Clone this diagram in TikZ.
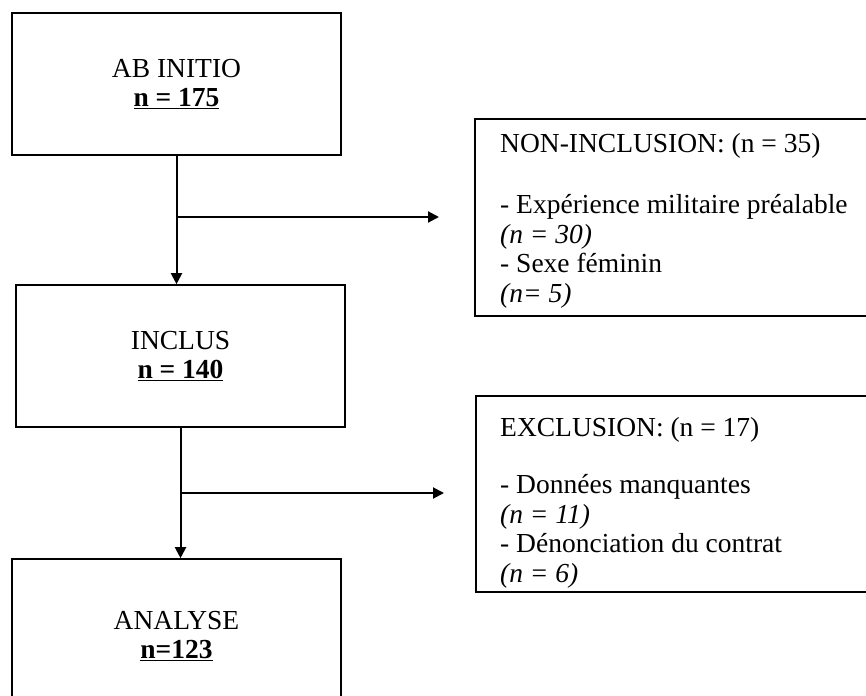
\documentclass[tikz,border=0pt]{standalone}
\usepackage{fontspec}
\setmainfont{Liberation Serif}
\usetikzlibrary{arrows.meta}

\begin{document}
\begin{tikzpicture}[
    x=1pt, y=-1pt,
    box/.style={rectangle, draw, line width=1.6pt, minimum width=329pt, minimum height=142pt, align=center, font=\fontsize{27.5}{29}\selectfont},
    sidebox/.style={rectangle, draw, line width=1.6pt, anchor=north west, minimum width=440pt, minimum height=197pt},
    liste/.style={anchor=base west, align=left, inner sep=0pt, font=\fontsize{27.5}{29.5}\selectfont},
    arrow/.style={-{Triangle[length=11pt,width=11pt]}, line width=2pt}
]
    \useasboundingbox (0,0) rectangle (866,695);
    \clip (0,0) rectangle (866,695);

    % Cadres principaux
    \node[box] (abinitio) at (176.5,84) {AB INITIO\\\textbf{\underline{n = 175}}};
    \node[box] (inclus) at (180.5,356) {INCLUS\\\textbf{\underline{n = 140}}};
    \node[box, minimum height=154pt] (analyse) at (176.5,636) {ANALYSE\\\textbf{\underline{n=123}}};

    % Cadres lateraux (base = derniere ligne)
    \node[sidebox] (noninc) at (474,118) {};
    \node[liste] (nonincListe) at (500,302) {NON-INCLUSION: (n = 35)\\[32pt]- Expérience militaire préalable\\\textit{(n = 30)}\\- Sexe féminin\\\textit{(n= 5)}};
    \node[sidebox, minimum height=196pt] (exclu) at (475,395) {};
    \node[liste] (excluListe) at (500,582) {EXCLUSION: (n = 17)\\[27.5pt]- Données manquantes\\\textit{(n = 11)}\\- Dénonciation du contrat\\\textit{(n = 6)}};

    % Fleches
    \coordinate (split1) at (176.5,217);
    \coordinate (versNoninc) at (439,217);
    \coordinate (split2) at (180.5,493);
    \coordinate (versExclu) at (444,493);
    \draw[arrow] (abinitio.south) -- (abinitio.south |- inclus.north);
    \draw[arrow] (split1) -- (versNoninc);
    \draw[arrow] (inclus.south) -- (inclus.south |- analyse.north);
    \draw[arrow] (split2) -- (versExclu);
\end{tikzpicture}
\end{document}
